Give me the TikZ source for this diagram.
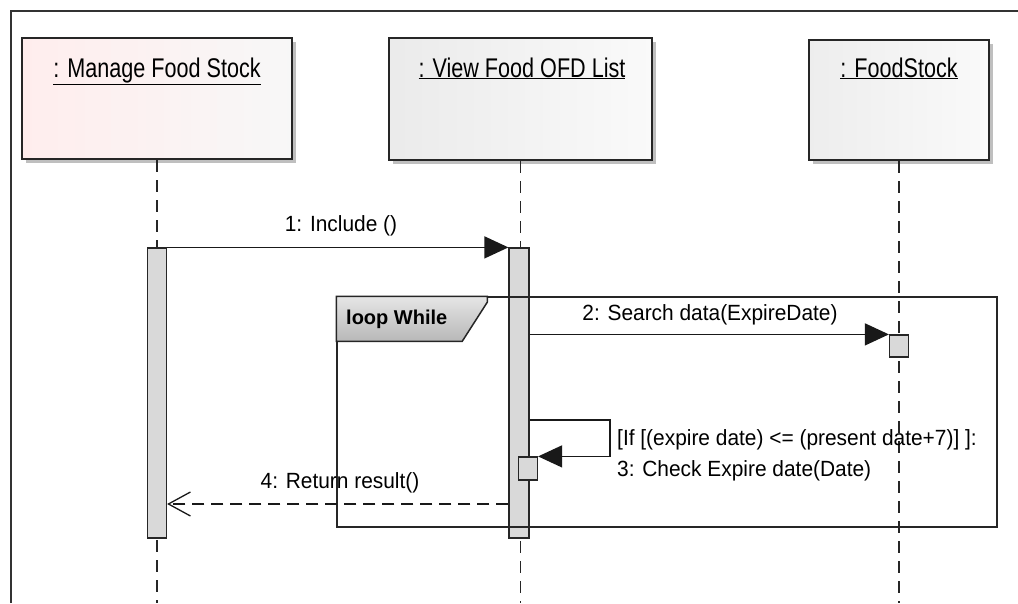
\documentclass[tikz,border=0pt]{standalone}
\usepackage{fontspec}
\setmainfont{Liberation Sans}
\newfontfamily\narrowfont[FakeStretch=0.8]{Liberation Sans}
\newfontfamily\msgfamily[FakeStretch=0.95]{Liberation Sans}
\usepackage{tikz}
\usetikzlibrary{arrows.meta,shadows}
\newcommand{\objname}[1]{{\narrowfont\fontsize{27}{30}\selectfont\underline{#1}}}
\newcommand{\msgfont}{\msgfamily\fontsize{22}{31}\selectfont}

\begin{document}
\begin{tikzpicture}[x=1pt,y=-1pt,
  objbox/.style={draw=black!85,line width=2pt,inner sep=0pt,
    drop shadow={shadow xshift=4pt,shadow yshift=-4pt,fill=black!50}},
  lifeline/.style={draw=black!85,line width=1.5pt,dash pattern=on 12pt off 8pt},
  act/.style={draw=black!85,line width=1.2pt,fill=black!15,inner sep=0pt,minimum width=19pt},
  msg/.style={draw=black!90,line width=1.3pt,-{Triangle[length=24pt,width=22pt]}},
  ret/.style={draw=black!90,line width=1.3pt,dash pattern=on 12pt off 7pt,
    -{Straight Barb[length=22pt,width=24pt]}},
  lbl/.style={font=\msgfont,inner sep=0pt}]
\useasboundingbox (0,0) rectangle (1018,603);
\coordinate (bot) at (0,603);
%% frame
\draw[line width=1.5pt,black!80] (11,603) -- (11,11) -- (1018,11);
%% objects
\node[objbox,left color=red!7,right color=black!3,minimum width=270pt,minimum height=121pt] (mfs) at (157,98.5) {};
\node[anchor=base] (mfst) at (157,77) {\objname{: Manage Food Stock}};
\node[objbox,left color=black!8,right color=black!2,minimum width=263pt,minimum height=122pt] (vfl) at (520.5,99) {};
\node[anchor=base] (vflt) at (522,77) {\objname{: View Food OFD List}};
\node[objbox,left color=black!7,right color=black!2,minimum width=180pt,minimum height=120pt] (fst) at (899,100) {};
\node[anchor=base] (fstt) at (899,77) {\objname{: FoodStock}};
%% lifelines
\draw[lifeline] (mfs.south) -- (mfs.south |- bot);
\draw[lifeline] (vfl.south) -- (vfl.south |- bot);
\draw[lifeline] (fst.south) -- (fst.south |- bot);
%% activations
\node[act,minimum height=290pt] (a1) at (157,393) {};
\node[act,minimum width=20pt,minimum height=290pt] (a2) at (519,393) {};
\node[act,minimum height=22pt] (fsa) at (899,346) {};
\node[act,minimum height=23pt] (sact) at (528,468.5) {};
%% loop fragment
\node[draw=black!85,line width=1.5pt,inner sep=0pt,minimum width=660pt,minimum height=230pt] (loop) at (667,412) {};
\draw[draw=black!85,line width=1.5pt,top color=black!10,bottom color=black!28]
  (loop.north west) -- ++(151,0) -- ++(0,6) -- ++(-25,39) -- ++(-126,0) -- cycle;
\node[anchor=west,inner sep=0pt,font=\bfseries\fontsize{20}{24}\selectfont] (looplbl) at (346,319) {loop While};
%% messages
\draw[msg] (a1.north east) -- (a2.north west);
\node[lbl] (l1) at (341,226) {1: Include ()};
\draw[msg] (a2.east |- fsa.north west) -- (fsa.north west);
\node[lbl] (l2) at (710,315) {2: Search data(ExpireDate)};
\coordinate (selfturn) at (610,420);
\draw[msg] (a2.east |- selfturn) -- (selfturn) |- (sact.north east);
\node[lbl,align=left,anchor=west] (l3) at (617,455) {[If [(expire date) <= (present date+7)] ]:\\3: Check Expire date(Date)};
\coordinate (retline) at (0,504);
\draw[ret] (a2.west |- retline) -- (a1.east |- retline);
\node[lbl] (l4) at (340,483) {4: Return result()};
\end{tikzpicture}
\end{document}
